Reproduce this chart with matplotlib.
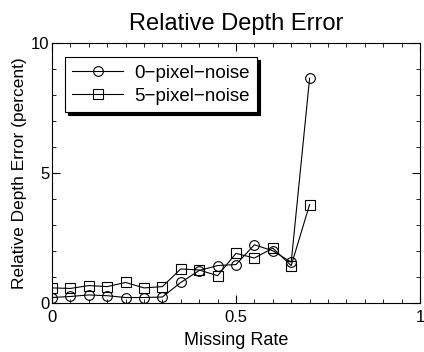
import matplotlib
matplotlib.use("Agg")
import matplotlib.pyplot as plt
from matplotlib.ticker import MultipleLocator

plt.rcParams['font.family'] = ['Liberation Sans', 'DejaVu Sans']

missing_rate = [0, 0.05, 0.1, 0.15, 0.2, 0.25, 0.3, 0.35, 0.4, 0.45, 0.5, 0.55, 0.6, 0.65, 0.7]
err_0px = [0.2, 0.24, 0.3, 0.27, 0.2, 0.2, 0.22, 0.78, 1.24, 1.43, 1.47, 2.23, 2.0, 1.56, 8.64]
err_5px = [0.57, 0.55, 0.66, 0.62, 0.78, 0.57, 0.62, 1.3, 1.26, 1.04, 1.9, 1.72, 2.1, 1.43, 3.78]

fig = plt.figure(figsize=(4.24, 3.52), dpi=100)
ax = fig.add_axes([0.1226, 0.14, 0.868, 0.738])

ax.plot(missing_rate, err_0px, color='k', lw=0.8, marker='o', ms=7,
        mfc='none', mec='k', mew=0.8, label='0\u2212pixel\u2212noise')
ax.plot(missing_rate, err_5px, color='k', lw=0.8, marker='s', ms=7,
        mfc='none', mec='k', mew=0.8, label='5\u2212pixel\u2212noise')

ax.set_xlim(0, 1)
ax.set_ylim(0, 10)
ax.set_xticks([0, 0.5, 1])
ax.set_xticklabels(['0', '0.5', '1'])
ax.set_yticks([0, 5, 10])
ax.xaxis.set_minor_locator(MultipleLocator(0.05))
ax.yaxis.set_minor_locator(MultipleLocator(1))
ax.tick_params(which='both', direction='in', top=True, right=True, labelsize=12)
ax.tick_params(which='major', length=6)
ax.tick_params(which='minor', length=3)
ax.tick_params(axis='y', pad=2)
ax.tick_params(axis='x', pad=5)

ax.set_title('Relative Depth Error', fontsize=17, pad=9)
ax.set_xlabel('Missing Rate', fontsize=13, labelpad=5)
ax.set_ylabel('Relative Depth Error (percent)', fontsize=12.5, labelpad=3)

leg = ax.legend(loc='upper left', bbox_to_anchor=(0.035, 0.945), fancybox=False,
                edgecolor='k', framealpha=1, fontsize=13.5,
                shadow={'color': 'k', 'alpha': 1}, handlelength=2.7,
                borderpad=0.4, labelspacing=0.3, handletextpad=0.6,
                borderaxespad=0)
leg.get_frame().set_linewidth(0.8)

fig.savefig('out.png', dpi=100)
